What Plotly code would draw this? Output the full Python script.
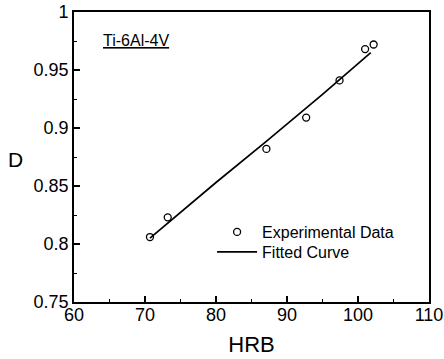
import plotly.graph_objects as go

hrb_exp = [70.7, 73.2, 87.1, 92.7, 97.4, 101.0, 102.2]
d_exp = [0.806, 0.823, 0.882, 0.909, 0.941, 0.968, 0.972]

hrb_fit = [70.7, 80.0, 87.0, 95.0, 101.8]
d_fit = [0.805, 0.853, 0.888, 0.929, 0.965]

x_ticks = [60, 70, 80, 90, 100, 110]
y_ticks = [0.75, 0.8, 0.85, 0.9, 0.95, 1.0]
y_tick_labels = ["0.75", "0.8", "0.85", "0.9", "0.95", "1"]

FONT = "Liberation Sans, Arial, Helvetica, sans-serif"

fig = go.Figure()
fig.add_trace(go.Scatter(
    x=hrb_exp, y=d_exp, mode="markers", name="Experimental Data", legend="legend",
    marker=dict(symbol="circle-open", size=7, color="black", line=dict(width=1.3)),
))
fig.add_trace(go.Scatter(
    x=hrb_fit, y=d_fit, mode="lines", name="Fitted Curve", legend="legend2",
    line=dict(color="black", width=1.7),
))

axis_common = dict(
    showgrid=False, zeroline=False, showline=True, linecolor="black", linewidth=1.7,
    mirror=True, ticks="inside", ticklen=6, tickwidth=1.5, tickcolor="black",
    automargin=False,
)
fig.update_xaxes(
    range=[60, 110], tickvals=x_ticks, ticklabeloverflow="allow",
    ticklabelstandoff=-4,
    tickfont=dict(family=FONT, size=18, color="black"),
    minor=dict(ticks="inside", ticklen=3, tickwidth=1.2, tickcolor="black", dtick=5),
    title=dict(text="HRB", font=dict(family=FONT, size=22, color="black"), standoff=12),
    **axis_common,
)
fig.update_yaxes(
    range=[0.75, 1.0], tickvals=y_ticks, ticktext=y_tick_labels,
    tickfont=dict(family=FONT, size=18, color="black"),
    minor=dict(ticks="inside", ticklen=3, tickwidth=1.2, tickcolor="black", dtick=0.025),
    **axis_common,
)

fig.add_annotation(
    text="D", xref="paper", yref="paper", x=-59 / 355, y=(302 - 159) / 290,
    xanchor="center", yanchor="middle", showarrow=False,
    font=dict(family=FONT, size=21, color="black"),
)
fig.add_annotation(
    text="<u>Ti-6Al-4V</u>", xref="paper", yref="paper", x=0.077, y=0.903,
    xanchor="left", yanchor="middle", showarrow=False,
    font=dict(family=FONT, size=16, color="black"),
)

legend_common = dict(
    xanchor="left", yanchor="middle",
    bgcolor="rgba(0,0,0,0)", borderwidth=0,
    font=dict(family=FONT, size=16, color="black"),
    itemwidth=40,
)
fig.update_layout(
    width=444, height=359,
    margin=dict(l=74, r=15, t=12, b=57, autoexpand=False),
    paper_bgcolor="white", plot_bgcolor="white",
    showlegend=True,
    legend=dict(x=0.389, y=(302 - 232) / 290, **legend_common),
    legend2=dict(x=0.389, y=(302 - 252) / 290, **legend_common),
)

fig.write_html("out.html")
